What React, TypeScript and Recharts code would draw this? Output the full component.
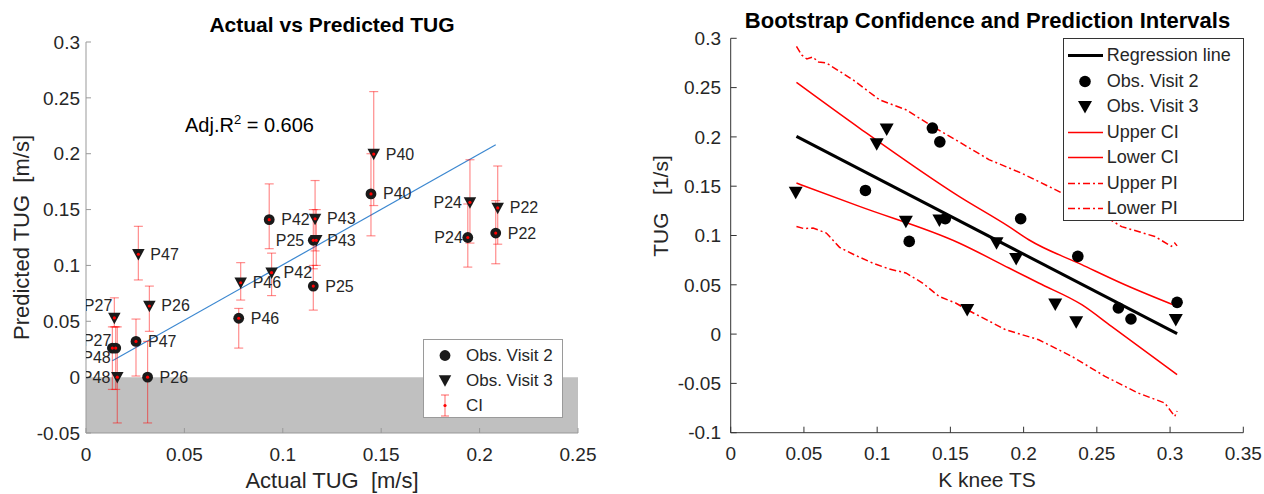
import React from "react";
import {
  ComposedChart,
  Scatter,
  Line,
  XAxis,
  YAxis,
  ErrorBar,
  ReferenceArea,
  Legend,
  Label,
} from "recharts";

const FONT = '"Liberation Sans", Arial, Helvetica, sans-serif';
const INK = "#262626";

// ---- left panel: actual vs predicted TUG ----
const participants = ["P22", "P24", "P25", "P26", "P27", "P40", "P42", "P43", "P46", "P47", "P48"];
const visit2Actual = [0.2082, 0.194, 0.1155, 0.0313, 0.0134, 0.1448, 0.0931, 0.1155, 0.0776, 0.0254, 0.0151];
const visit2Pred = [0.129, 0.125, 0.0815, 0.0, 0.026, 0.164, 0.141, 0.1225, 0.0527, 0.032, 0.026];
const visit2Low = [0.1015, 0.0985, 0.06, -0.041, -0.011, 0.1265, 0.115, 0.097, 0.026, 0.001, -0.011];
const visit2High = [0.158, 0.155, 0.1, 0.032, 0.045, 0.2, 0.173, 0.15, 0.0615, 0.052, 0.045];
const visit3Actual = [0.2092, 0.1951, 0.117, 0.0322, 0.0144, 0.1462, 0.0943, 0.1164, 0.0786, 0.0266, 0.0159];
const visit3Pred = [0.1515, 0.1565, 0.1225, 0.0637, 0.053, 0.1997, 0.0935, 0.1417, 0.0845, 0.11, 0.0];
const visit3Low = [0.119, 0.12, 0.1, 0.041, 0.045, 0.1536, 0.073, 0.113, 0.069, 0.087, -0.041];
const visit3High = [0.189, 0.1946, 0.15, 0.0815, 0.071, 0.2556, 0.111, 0.176, 0.1025, 0.135, 0.045];
const fitLine = [
  { x: 0.0134, y: 0.0146 },
  { x: 0.2082, y: 0.208 },
];
const leftTicksX = [0, 0.05, 0.1, 0.15, 0.2, 0.25];
const leftTicksY = [-0.05, 0, 0.05, 0.1, 0.15, 0.2, 0.25, 0.3];

// ---- right panel: bootstrap intervals ----
const visit2K = [0.092, 0.1377, 0.1428, 0.1219, 0.1465, 0.198, 0.237, 0.2647, 0.2733, 0.3048];
const visit2TUG = [0.1457, 0.209, 0.195, 0.094, 0.117, 0.117, 0.0788, 0.0265, 0.0153, 0.0322];
const visit3K = [0.0444, 0.0997, 0.1065, 0.1196, 0.1425, 0.1615, 0.1815, 0.1949, 0.2216, 0.2359, 0.3039];
const visit3TUG = [0.1437, 0.193, 0.208, 0.1143, 0.1155, 0.0247, 0.0924, 0.0765, 0.0305, 0.0123, 0.0146];
const regressionLine = [
  { x: 0.0449, y: 0.2005 },
  { x: 0.3048, y: 0.0004 },
];
const upperCI = [
  { x: 0.0449, y: 0.2553 }, { x: 0.0879, y: 0.209 }, { x: 0.1559, y: 0.1397 },
  { x: 0.19, y: 0.109 }, { x: 0.2035, y: 0.0957 }, { x: 0.2397, y: 0.0704 },
  { x: 0.2692, y: 0.05 }, { x: 0.3048, y: 0.0281 },
];
const lowerCI = [
  { x: 0.0449, y: 0.1532 }, { x: 0.0879, y: 0.1295 }, { x: 0.1559, y: 0.0924 },
  { x: 0.19, y: 0.067 }, { x: 0.2103, y: 0.0518 }, { x: 0.2397, y: 0.0298 },
  { x: 0.26, y: 0.0078 }, { x: 0.3048, y: -0.0412 },
];
const upperPI = [
  { x: 0.0449, y: 0.2918 }, { x: 0.0485, y: 0.283 }, { x: 0.052, y: 0.279 }, { x: 0.056, y: 0.281 },
  { x: 0.06, y: 0.276 }, { x: 0.0653, y: 0.275 }, { x: 0.0834, y: 0.258 }, { x: 0.1015, y: 0.2377 },
  { x: 0.1196, y: 0.2276 }, { x: 0.1377, y: 0.2107 }, { x: 0.1536, y: 0.197 }, { x: 0.1763, y: 0.177 },
  { x: 0.1989, y: 0.163 }, { x: 0.2216, y: 0.1465 }, { x: 0.2443, y: 0.1295 }, { x: 0.2669, y: 0.109 },
  { x: 0.2896, y: 0.099 }, { x: 0.3009, y: 0.089 }, { x: 0.3032, y: 0.0924 }, { x: 0.3048, y: 0.0895 },
];
const lowerPI = [
  { x: 0.0449, y: 0.1092 }, { x: 0.05, y: 0.107 }, { x: 0.0562, y: 0.1076 }, { x: 0.0653, y: 0.1025 },
  { x: 0.0743, y: 0.088 }, { x: 0.085, y: 0.08 }, { x: 0.097, y: 0.072 }, { x: 0.1083, y: 0.066 },
  { x: 0.1196, y: 0.062 }, { x: 0.131, y: 0.0518 }, { x: 0.1423, y: 0.0382 }, { x: 0.1536, y: 0.0315 },
  { x: 0.1615, y: 0.0247 }, { x: 0.1876, y: 0.0045 }, { x: 0.2103, y: -0.0057 }, { x: 0.2329, y: -0.0226 },
  { x: 0.2556, y: -0.0429 }, { x: 0.2782, y: -0.0598 }, { x: 0.2964, y: -0.0699 }, { x: 0.3032, y: -0.0835 },
  { x: 0.3048, y: -0.078 },
];
const rightTicksX = [0, 0.05, 0.1, 0.15, 0.2, 0.25, 0.3, 0.35];
const rightTicksY = [-0.1, -0.05, 0, 0.05, 0.1, 0.15, 0.2, 0.25, 0.3];

// point label placement (left panel), keyed name-visit
const labelPlacement: Record<string, { dx: number; dy: number; anchor: "start" | "end" }> = {
  "P24-2": { dx: -5, dy: 0, anchor: "end" },
  "P24-3": { dx: -8, dy: 0, anchor: "end" },
  "P25-3": { dx: -12, dy: 0, anchor: "end" },
  "P27-2": { dx: -1, dy: -8, anchor: "end" },
  "P27-3": { dx: -2, dy: -12, anchor: "end" },
  "P48-2": { dx: -5, dy: 9, anchor: "end" },
  "P48-3": { dx: -7, dy: 0, anchor: "end" },
  "P43-2": { dx: 14, dy: 0, anchor: "start" },
};

const toPoints = (visit: number, xs: number[], ys: number[], lo: number[], hi: number[]) =>
  participants.map((name, i) => ({
    name,
    visit,
    x: xs[i],
    y: ys[i],
    err: [ys[i] - lo[i], hi[i] - ys[i]],
  }));

const leftVisit2 = toPoints(2, visit2Actual, visit2Pred, visit2Low, visit2High);
const leftVisit3 = toPoints(3, visit3Actual, visit3Pred, visit3Low, visit3High);
const leftCI = [...leftVisit2, ...leftVisit3];

const rightVisit2 = visit2K.map((x, i) => ({ x, y: visit2TUG[i] }));
const rightVisit3 = visit3K.map((x, i) => ({ x, y: visit3TUG[i] }));

function triPath(cx: number, cy: number, w: number, h: number) {
  return `M${cx - w / 2},${cy - h * 0.45} L${cx + w / 2},${cy - h * 0.45} L${cx},${cy + h * 0.55} Z`;
}

function PointLabel({ cx, cy, name, visit }: { cx: number; cy: number; name: string; visit: number }) {
  const p = labelPlacement[`${name}-${visit}`] || { dx: 12, dy: 0, anchor: "start" };
  return (
    <text
      x={cx + p.dx}
      y={cy + p.dy}
      textAnchor={p.anchor}
      dominantBaseline="central"
      fontFamily={FONT}
      fontSize={16}
      fill={INK}
    >
      {name}
    </text>
  );
}

function CircleShape(props: any) {
  const { cx, cy, payload } = props;
  return (
    <g>
      <circle cx={cx} cy={cy} r={5.4} fill="#1a1a1a" />
      <PointLabel cx={cx} cy={cy} name={payload.name} visit={payload.visit} />
    </g>
  );
}

function TriangleShape(props: any) {
  const { cx, cy, payload } = props;
  return (
    <g>
      <path d={triPath(cx, cy, 12.5, 11.5)} fill="#1a1a1a" />
      <PointLabel cx={cx} cy={cy} name={payload.name} visit={payload.visit} />
    </g>
  );
}

function RedDot(props: any) {
  return <circle cx={props.cx} cy={props.cy} r={1.6} fill="#ff0000" />;
}

function LeftLegend() {
  const row = { position: "absolute" as const, left: 0, height: 25, display: "flex", alignItems: "center" };
  return (
    <div
      style={{
        position: "relative",
        width: 140,
        height: 79,
        boxSizing: "border-box",
        border: "1px solid #9a9a9a",
        background: "#fff",
        fontFamily: FONT,
        fontSize: 17,
        color: INK,
      }}
    >
      <div style={{ ...row, top: 3 }}>
        <svg width={42} height={25}><circle cx={21} cy={12.5} r={5.4} fill="#1a1a1a" /></svg>
        <span>Obs. Visit 2</span>
      </div>
      <div style={{ ...row, top: 28 }}>
        <svg width={42} height={25}><path d={triPath(21, 12.5, 12.5, 11.5)} fill="#1a1a1a" /></svg>
        <span>Obs. Visit 3</span>
      </div>
      <div style={{ ...row, top: 53 }}>
        <svg width={42} height={25}>
          <g stroke="#ff0000" strokeOpacity={0.5} strokeWidth={1.2}>
            <line x1={21} y1={2} x2={21} y2={23} />
            <line x1={17} y1={2} x2={25} y2={2} />
            <line x1={17} y1={23} x2={25} y2={23} />
          </g>
          <circle cx={21} cy={12.5} r={1.6} fill="#ff0000" />
        </svg>
        <span>CI</span>
      </div>
    </div>
  );
}

function RightLegend() {
  const items: { label: string; kind: "line" | "circle" | "tri"; color: string; width: number; dash?: string }[] = [
    { label: "Regression line", kind: "line", color: "#000", width: 3 },
    { label: "Obs. Visit 2", kind: "circle", color: "#000", width: 0 },
    { label: "Obs. Visit 3", kind: "tri", color: "#000", width: 0 },
    { label: "Upper CI", kind: "line", color: "#ff0000", width: 1.5 },
    { label: "Lower CI", kind: "line", color: "#ff0000", width: 1.5 },
    { label: "Upper PI", kind: "line", color: "#ff0000", width: 1.5, dash: "7 3 2 3" },
    { label: "Lower PI", kind: "line", color: "#ff0000", width: 1.5, dash: "7 3 2 3" },
  ];
  return (
    <div
      style={{
        position: "relative",
        width: 181,
        height: 183,
        boxSizing: "border-box",
        border: "1px solid #333",
        background: "#fff",
        fontFamily: FONT,
        fontSize: 18,
        color: INK,
      }}
    >
      {items.map((it, i) => (
        <div
          key={it.label}
          style={{ position: "absolute", left: 0, top: 4 + i * 25.5, height: 25, display: "flex", alignItems: "center" }}
        >
          <svg width={43} height={25}>
            {it.kind === "line" && (
              <line x1={4} y1={12.5} x2={39} y2={12.5} stroke={it.color} strokeWidth={it.width} strokeDasharray={it.dash} />
            )}
            {it.kind === "circle" && <circle cx={21} cy={12.5} r={5.8} fill="#000" />}
            {it.kind === "tri" && <path d={triPath(21, 12.5, 14, 12.5)} fill="#000" />}
          </svg>
          <span>{it.label}</span>
        </div>
      ))}
    </div>
  );
}

function LeftChart() {
  return (
    <ComposedChart width={640} height={494} margin={{ top: 42, right: 62, bottom: 31, left: 16 }}>
      <ReferenceArea x1={0} x2={0.25} y1={-0.05} y2={0} fill="#c0c0c0" fillOpacity={1} stroke="none" />
      <XAxis
        type="number"
        dataKey="x"
        domain={[0, 0.25]}
        ticks={leftTicksX}
        allowDataOverflow
        height={30}
        stroke="#999"
        tickSize={-5}
        tickMargin={20}
        tick={{ fill: INK, fontSize: 19, fontFamily: FONT }}
      >
        <Label
          value={"Actual TUG \u00a0[m/s]"}
          position="bottom"
          offset={9}
          fill={INK}
          fontSize={22}
          fontFamily={FONT}
        />
      </XAxis>
      <YAxis
        type="number"
        domain={[-0.05, 0.3]}
        ticks={leftTicksY}
        allowDataOverflow
        width={70}
        stroke="#999"
        tickSize={-5}
        tickMargin={11}
        tick={{ fill: INK, fontSize: 19, fontFamily: FONT }}
      >
        <Label
          value={"Predicted TUG \u00a0[m/s]"}
          angle={-90}
          position="insideLeft"
          offset={5}
          fill={INK}
          fontSize={22}
          fontFamily={FONT}
          style={{ textAnchor: "middle" }}
        />
      </YAxis>
      <Line data={fitLine} dataKey="y" stroke="#3b87d0" strokeWidth={1.2} dot={false} isAnimationActive={false} legendType="none" />
      <Scatter name="Obs. Visit 2" data={leftVisit2} dataKey="y" shape={CircleShape} isAnimationActive={false} />
      <Scatter name="Obs. Visit 3" data={leftVisit3} dataKey="y" shape={TriangleShape} isAnimationActive={false} />
      <Scatter name="CI" data={leftCI} dataKey="y" shape={RedDot} isAnimationActive={false}>
        <ErrorBar dataKey="err" direction="y" width={4.5} stroke="#ff0000" strokeOpacity={0.45} strokeWidth={1.2} />
      </Scatter>
      <text x={332} y={31.7} textAnchor="middle" fontFamily={FONT} fontSize={21} fontWeight="bold" fill="#000">
        Actual vs Predicted TUG
      </text>
      <text x={185} y={131.5} fontFamily={FONT} fontSize={20} fill="#000">
        <tspan>Adj.R</tspan>
        <tspan dy={-8} fontSize={13}>2</tspan>
        <tspan dy={8}> = 0.606</tspan>
      </text>
      <Legend
        layout="vertical"
        align="center"
        verticalAlign="middle"
        content={<LeftLegend />}
        wrapperStyle={{ left: 423, top: 339, width: 140, height: 79 }}
      />
    </ComposedChart>
  );
}

function RightChart() {
  const tickStyle = { fill: INK, fontSize: 19, fontFamily: FONT };
  return (
    <ComposedChart width={624} height={494} margin={{ top: 38.3, right: 20.7, bottom: 31.3, left: 10.7 }}>
      <XAxis
        type="number"
        dataKey="x"
        domain={[0, 0.35]}
        ticks={rightTicksX}
        allowDataOverflow
        height={30}
        stroke="#333"
        tickSize={-6}
        tickMargin={20.3}
        tick={tickStyle}
      >
        <Label value="K knee TS" position="bottom" offset={9} fill={INK} fontSize={21} fontFamily={FONT} />
      </XAxis>
      <XAxis
        xAxisId="top"
        orientation="top"
        type="number"
        dataKey="x"
        domain={[0, 0.35]}
        ticks={rightTicksX}
        height={0}
        stroke="#333"
        tickSize={-6}
        tickFormatter={() => ""}
      />
      <YAxis
        type="number"
        domain={[-0.1, 0.3]}
        ticks={rightTicksY}
        allowDataOverflow
        width={80}
        stroke="#333"
        tickSize={-6}
        tickMargin={15.7}
        tick={tickStyle}
      >
        <Label
          value={"TUG \u00a0\u00a0[1/s]"}
          angle={-90}
          position="insideLeft"
          offset={10.3}
          dy={-29.5}
          fill={INK}
          fontSize={21}
          fontFamily={FONT}
          style={{ textAnchor: "middle" }}
        />
      </YAxis>
      <YAxis
        yAxisId="right"
        orientation="right"
        type="number"
        domain={[-0.1, 0.3]}
        ticks={rightTicksY}
        width={0}
        stroke="#333"
        tickSize={-6}
        tickFormatter={() => ""}
      />
      <Line data={upperPI} dataKey="y" stroke="#ff0000" strokeWidth={1.5} strokeDasharray="7 3 2 3" dot={false} isAnimationActive={false} />
      <Line data={lowerPI} dataKey="y" stroke="#ff0000" strokeWidth={1.5} strokeDasharray="7 3 2 3" dot={false} isAnimationActive={false} />
      <Line data={upperCI} dataKey="y" type="monotone" stroke="#ff0000" strokeWidth={1.5} dot={false} isAnimationActive={false} />
      <Line data={lowerCI} dataKey="y" type="monotone" stroke="#ff0000" strokeWidth={1.5} dot={false} isAnimationActive={false} />
      <Line data={regressionLine} dataKey="y" stroke="#000" strokeWidth={3} dot={false} isAnimationActive={false} />
      <Scatter
        data={rightVisit2}
        dataKey="y"
        shape={(p: any) => <circle cx={p.cx} cy={p.cy} r={5.8} fill="#000" />}
        isAnimationActive={false}
      />
      <Scatter
        data={rightVisit3}
        dataKey="y"
        shape={(p: any) => <path d={triPath(p.cx, p.cy, 14, 12.5)} fill="#000" />}
        isAnimationActive={false}
      />
      <text x={347.5} y={28.3} textAnchor="middle" fontFamily={FONT} fontSize={22} fontWeight="bold" fill="#000">
        Bootstrap Confidence and Prediction Intervals
      </text>
      <Legend
        layout="vertical"
        align="center"
        verticalAlign="middle"
        content={<RightLegend />}
        wrapperStyle={{ left: 422.7, top: 38, width: 181, height: 183 }}
      />
    </ComposedChart>
  );
}

export default function App() {
  return (
    <div style={{ position: "absolute", left: 0, top: 0, width: 1264, height: 494, background: "#fff" }}>
      <div style={{ position: "absolute", left: 0, top: 0 }}>
        <LeftChart />
      </div>
      <div style={{ position: "absolute", left: 640, top: 0 }}>
        <RightChart />
      </div>
    </div>
  );
}
